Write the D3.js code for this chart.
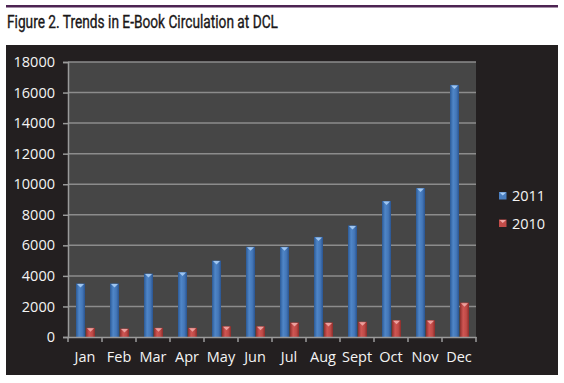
<!DOCTYPE html>
<html><head><meta charset="utf-8">
<script src="https://cdn.jsdelivr.net/npm/d3@7/dist/d3.min.js"></script>
<style>body{margin:0;background:#fff;}svg{display:block;}</style>
</head><body>
<svg id="c" width="564" height="383"></svg>
<script>
const months = ["Jan","Feb","Mar","Apr","May","Jun","Jul","Aug","Sept","Oct","Nov","Dec"];
const series = ["2011","2010"];
const values2011 = [3500,3500,4150,4250,5000,5900,5900,6550,7300,8900,9750,16500];
const values2010 = [600,550,600,600,700,700,950,950,1000,1100,1100,2250];
const yTicks = [0,2000,4000,6000,8000,10000,12000,14000,16000,18000];
const title = "Figure 2. Trends in E-Book Circulation at DCL";

const svg = d3.select("#c");
const M={left:68,right:476,top:62,bottom:337};

// header line and title
svg.append("rect").attr("x",6).attr("y",5).attr("width",552).attr("height",2.5).attr("fill","#4d2452");
svg.append("text").attr("x",7).attr("y",27.5).text(title)
  .attr("font-family","'Liberation Sans Narrow','Roboto','DejaVu Sans Condensed',sans-serif")
  .attr("font-size",17.5).attr("fill","#1a1718").attr("stroke","#1a1718").attr("stroke-width",0.35)
  .attr("textLength",271).attr("lengthAdjust","spacingAndGlyphs");

// panel
svg.append("rect").attr("x",6).attr("y",45).attr("width",552).attr("height",330).attr("fill","#231f20");
svg.append("rect").attr("x",M.left).attr("y",M.top).attr("width",M.right-M.left).attr("height",M.bottom-M.top).attr("fill","#464646");

const x0 = d3.scaleBand().domain(months).range([M.left,M.right]).paddingInner(0).paddingOuter(0);
const x1 = d3.scaleBand().domain(series).range([7.5,x0.bandwidth()-6.5]).padding(0);
const y = d3.scaleLinear().domain([0,18000]).range([M.bottom,M.top]);

const defs = svg.append("defs");
function grad(id, stops){
  const g = defs.append("linearGradient").attr("id",id).attr("x1","0").attr("x2","1").attr("y1","0").attr("y2","0");
  stops.forEach(s=>g.append("stop").attr("offset",s[0]).attr("stop-color",s[1]));
}
grad("gb",[[0,"#2c5a96"],[0.35,"#4f86c8"],[0.7,"#4477b8"],[1,"#2a5490"]]);
grad("gr",[[0,"#8e2f2d"],[0.35,"#cf5653"],[0.7,"#c04a47"],[1,"#8a2d2b"]]);
const fills = {"2011":"url(#gb)","2010":"url(#gr)"};
const caps = {"2011":"#a9cdf5","2010":"#f0a8a6"};
const legendFill = {"2011":"#4a7ebf","2010":"#c24c49"};

// gridlines
svg.append("g").selectAll("line").data(yTicks.filter(d=>d>0)).join("line")
  .attr("x1",M.left).attr("x2",M.right).attr("y1",d=>y(d)).attr("y2",d=>y(d))
  .attr("stroke","#8c8c8c").attr("stroke-width",1.5);

const labelFont = "'Open Sans','Noto Sans',sans-serif";
// y axis
const ya = svg.append("g").attr("transform",`translate(${M.left},0)`)
  .call(d3.axisLeft(y).tickValues(yTicks).tickFormat(d3.format("d")).tickSize(5).tickPadding(8));
ya.select(".domain").attr("stroke","#9a9a9a").attr("stroke-width",1.5);
ya.selectAll(".tick line").attr("stroke","#9a9a9a").attr("stroke-width",1.5);
ya.selectAll("text").attr("fill","#f4f4f4").attr("font-family",labelFont).attr("font-size",14.5);

// bars
const data = months.map((m,i)=>({m, vals:[{s:"2011",v:values2011[i]},{s:"2010",v:values2010[i]}]}));
const gg = svg.append("g").selectAll("g").data(data).join("g").attr("transform",d=>`translate(${x0(d.m)},0)`);
const bars = gg.selectAll("g").data(d=>d.vals).join("g");
bars.append("rect").attr("x",d=>x1(d.s)+0.5).attr("width",x1.bandwidth()-1)
  .attr("y",d=>y(d.v)).attr("height",d=>y(0)-y(d.v)).attr("fill",d=>fills[d.s]);
bars.append("path").attr("d",d=>{
  const xl=x1(d.s)+1.5, xr=x1(d.s)+x1.bandwidth()-1.5, yt=y(d.v)+0.5;
  return `M${xl},${yt}L${xr},${yt}L${(xl+xr)/2},${yt+3.5}Z`;
}).attr("fill",d=>caps[d.s]).attr("opacity",0.9);

// x axis
const xa = svg.append("g").attr("transform",`translate(0,${M.bottom})`)
  .call(d3.axisBottom(x0).tickSize(0).tickPadding(15));
xa.select(".domain").attr("stroke","#9a9a9a").attr("stroke-width",1.5);
xa.selectAll("text").attr("fill","#f4f4f4").attr("font-family",labelFont).attr("font-size",14.5);
svg.append("g").selectAll("line").data(months.map(m=>x0(m)).concat([M.right])).join("line")
  .attr("x1",d=>d).attr("x2",d=>d).attr("y1",M.bottom).attr("y2",M.bottom+5)
  .attr("stroke","#9a9a9a").attr("stroke-width",1.5);

// legend
const lg = svg.append("g").selectAll("g").data(series).join("g")
  .attr("transform",(d,i)=>`translate(499,${192+i*27.5})`);
lg.append("rect").attr("width",7.5).attr("height",7.5).attr("fill",d=>legendFill[d]);
lg.append("path").attr("d","M0.5,0.5L7,0.5L3.75,3.5Z").attr("fill",d=>caps[d]);
lg.append("text").attr("x",13).attr("y",9).text(d=>d).attr("fill","#f4f4f4")
  .attr("font-family",labelFont).attr("font-size",14.5);
</script>
</body></html>
